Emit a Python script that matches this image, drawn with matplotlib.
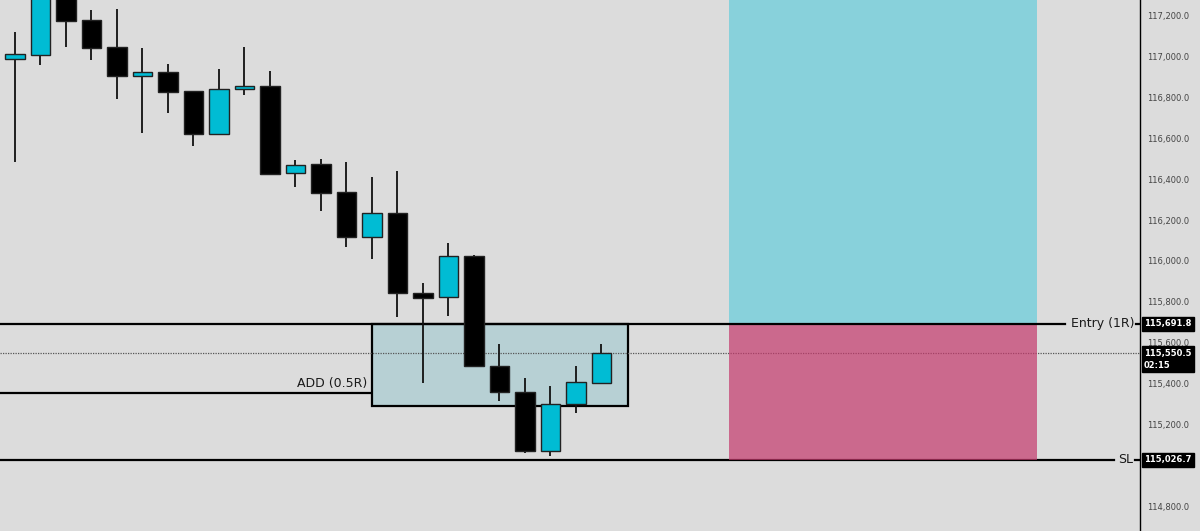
import matplotlib
matplotlib.use("Agg")
import matplotlib.pyplot as plt
import matplotlib.transforms as mtransforms
from matplotlib.patches import Rectangle

# %% candle data
opens = [116987, 117009, 117320, 117177, 117047, 116903, 116923, 116830,
         116622, 116840, 116857, 116429, 116473, 116336, 116118, 116233,
         115844, 115822, 116025, 115487, 115360, 115071, 115299, 115404]
highs = [117119, 117360, 117340, 117228, 117231, 117040, 116962, 116832,
         116938, 117047, 116929, 116494, 116497, 116482, 116412, 116440,
         115893, 116086, 116028, 115592, 115428, 115387, 115487, 115592]
lows = [116485, 116957, 117048, 116983, 116794, 116627, 116722, 116564,
        116617, 116813, 116419, 116363, 116245, 116066, 116009, 115727,
        115404, 115732, 115482, 115315, 115058, 115045, 115254, 115402]
closes = [117011, 117320, 117174, 117043, 116903, 116923, 116826, 116622,
          116841, 116856, 116427, 116471, 116334, 116118, 116233, 115841,
          115820, 116024, 115484, 115357, 115071, 115299, 115406, 115550.5]

entry = 115691.8
stop = 115026.7
add_level = 115352.0
zone_low = 115290.0
last_price = 115550.5
target = 117800.0
timer = "02:15"

zone_start, zone_end = 14, 24.05
proj_start, proj_end = 28, 40.08
yticks = list(range(114800, 117201, 200))
hidden_ticks = [115000]  # sits under the SL price tag

# %% figure
bg = '#dcdcdc'
fig = plt.figure(figsize=(12, 5.31), dpi=100)
fig.patch.set_facecolor(bg)
ax = fig.add_axes([0, 0, 0.95, 1])
ax.set_facecolor(bg)

ax.set_xlim(-0.588, 44.12)
ax.set_ylim(114678, 117277)

# long / short projection
ax.add_patch(Rectangle((proj_start, entry), proj_end - proj_start, target - entry,
                       facecolor='#88d1db', lw=0, zorder=1))
ax.add_patch(Rectangle((proj_start, stop), proj_end - proj_start, entry - stop,
                       facecolor='#c5396c', alpha=0.7, lw=0, zorder=1.5))

# add zone
ax.add_patch(Rectangle((zone_start, zone_low), zone_end - zone_start, entry - zone_low,
                       facecolor='#b7d0d4', edgecolor='black', lw=1.6, zorder=1))
ax.hlines(add_level, -1, zone_start, color='black', lw=1.6, zorder=1)
ax.text(zone_start - 0.2, add_level + 18, 'ADD (0.5R)', ha='right', va='bottom',
        fontsize=9, color='#1a1a1a')

# price lines
ax.axhline(last_price, color='#555', lw=0.9, ls=(0, (1, 1)), zorder=1.2)
ax.axhline(entry, xmin=0, xmax=1065 / 1140, color='black', lw=1.6, zorder=2)
ax.axhline(entry, xmin=1136 / 1140, xmax=1, color='black', lw=1.6, zorder=2)
ax.axhline(stop, xmin=0, xmax=1114 / 1140, color='black', lw=1.6, zorder=1.2)
ax.axhline(stop, xmin=1135 / 1140, xmax=1, color='black', lw=1.6, zorder=2)

trans = mtransforms.blended_transform_factory(ax.transAxes, ax.transData)
ax.text(1071 / 1140, entry, 'Entry (1R)', transform=trans, ha='left', va='center',
        fontsize=9, color='#1a1a1a')
ax.text(1118 / 1140, stop, 'SL', transform=trans, ha='left', va='center',
        fontsize=9, color='#1a1a1a')

# candles
xs = list(range(len(opens)))
ax.vlines(xs, lows, highs, color='#111', lw=1.3, zorder=3)
for x, o, c in zip(xs, opens, closes):
    up = c >= o
    ax.bar(x, abs(c - o), bottom=min(o, c), width=0.75,
           color='#00bcd4' if up else 'black', edgecolor='#222', lw=1, zorder=4)

# right price axis
ax.yaxis.tick_right()
ax.set_yticks(yticks)
ax.set_yticklabels(['' if v in hidden_ticks else f'{v:,.1f}' for v in yticks])
ax.tick_params(axis='y', length=0, pad=5, labelsize=6, labelcolor='#444')
ax.set_xticks([])
for side in ['top', 'left', 'bottom']:
    ax.spines[side].set_visible(False)
ax.spines['right'].set_color('black')
ax.spines['right'].set_linewidth(1)

box = dict(boxstyle='square,pad=0.3', facecolor='black', edgecolor='black')
ax.text(1.0 + 4 / 1140, entry, f'{entry:,.1f}', transform=trans, ha='left',
        va='center', fontsize=6, fontweight='bold', color='white', bbox=box,
        clip_on=False, zorder=10)
ax.text(1.0 + 4 / 1140, stop, f'{stop:,.1f}', transform=trans, ha='left',
        va='center', fontsize=6, fontweight='bold', color='white', bbox=box,
        clip_on=False, zorder=10)
tr_last = mtransforms.offset_copy(trans, fig=fig, y=4, units='dots')
ax.text(1.0 + 4 / 1140, last_price, f'{last_price:,.1f}\n{timer}', transform=tr_last,
        ha='left', va='top', fontsize=6, fontweight='bold', color='white',
        linespacing=1.4, bbox=box, clip_on=False, zorder=10)

fig.savefig('out.png', dpi=100, facecolor=bg)
